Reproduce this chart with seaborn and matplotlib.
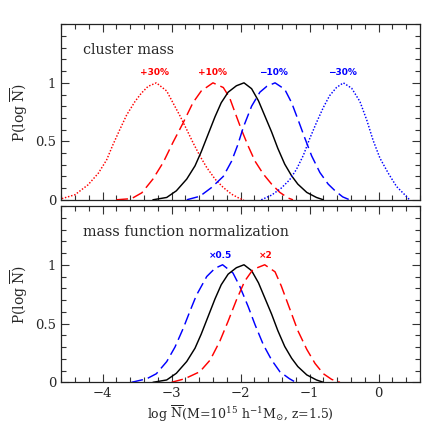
import matplotlib
matplotlib.use("Agg")
import matplotlib.pyplot as plt
from matplotlib.ticker import MultipleLocator
import seaborn as sns
import pandas as pd

# ---------------- data ----------------
# black reference curve (same in both panels)
x_black = [-3.27, -3.07, -2.93, -2.78, -2.66, -2.57, -2.47, -2.37, -2.28, -2.18, -2.06,
           -1.95, -1.84, -1.74, -1.65, -1.55, -1.46, -1.36, -1.26, -1.17, -1.04, -0.90, -0.80]
y_black = [0.0, 0.02, 0.077, 0.177, 0.29, 0.41, 0.56, 0.71, 0.83, 0.92, 0.975,
           1.0, 0.95, 0.846, 0.72, 0.58, 0.44, 0.305, 0.205, 0.134, 0.063, 0.02, 0.0]

# top panel: cluster mass
x_p30 = [-4.59, -4.40, -4.21, -4.06, -3.94, -3.85, -3.75, -3.65, -3.53, -3.44, -3.34,
         -3.22, -3.07, -2.98, -2.88, -2.78, -2.69, -2.59, -2.49, -2.37, -2.25, -2.13, -2.01, -1.95]
y_p30 = [0.01, 0.043, 0.128, 0.228, 0.342, 0.47, 0.60, 0.726, 0.84, 0.91, 0.97,
         1.0, 0.93, 0.83, 0.72, 0.60, 0.49, 0.376, 0.276, 0.177, 0.105, 0.048, 0.01, 0.0]

x_p10 = [-3.80, -3.58, -3.43, -3.27, -3.12, -2.98, -2.83, -2.69, -2.57, -2.40,
         -2.25, -2.16, -2.08, -1.99, -1.89, -1.79, -1.67, -1.55, -1.43, -1.31, -1.24]
y_p10 = [0.0, 0.01, 0.06, 0.177, 0.32, 0.49, 0.66, 0.83, 0.93, 1.0,
         0.96, 0.875, 0.746, 0.604, 0.46, 0.33, 0.22, 0.134, 0.063, 0.015, 0.0]

x_m10 = [-2.78, -2.59, -2.42, -2.25, -2.13, -2.04, -1.96, -1.84, -1.72, -1.62, -1.50,
         -1.36, -1.26, -1.17, -1.07, -0.97, -0.85, -0.73, -0.63, -0.52, -0.42]
y_m10 = [0.0, 0.03, 0.105, 0.20, 0.33, 0.47, 0.62, 0.80, 0.92, 0.97, 1.0,
         0.945, 0.83, 0.69, 0.53, 0.376, 0.233, 0.134, 0.077, 0.025, 0.0]

x_m30 = [-1.70, -1.55, -1.41, -1.29, -1.19, -1.09, -1.00, -0.90, -0.80, -0.71, -0.61,
         -0.51, -0.39, -0.27, -0.17, -0.08, 0.02, 0.14, 0.26, 0.38, 0.45]
y_m30 = [0.0, 0.04, 0.10, 0.17, 0.26, 0.38, 0.52, 0.66, 0.79, 0.89, 0.96,
         1.0, 0.954, 0.84, 0.68, 0.51, 0.356, 0.228, 0.114, 0.043, 0.0]

# bottom panel: mass function normalization
x_half = [-3.58, -3.36, -3.22, -3.07, -2.95, -2.83, -2.73, -2.64, -2.49, -2.37, -2.26,
          -2.11, -2.01, -1.89, -1.79, -1.67, -1.55, -1.43, -1.29, -1.20]
y_half = [0.0, 0.03, 0.073, 0.176, 0.30, 0.46, 0.61, 0.74, 0.90, 0.97, 1.0,
          0.93, 0.815, 0.645, 0.49, 0.32, 0.19, 0.09, 0.03, 0.0]

x_two = [-3.0, -2.81, -2.59, -2.44, -2.30, -2.18, -2.06, -1.94, -1.82, -1.65,
         -1.50, -1.41, -1.29, -1.17, -1.04, -0.92, -0.80, -0.68, -0.56]
y_two = [0.0, 0.03, 0.09, 0.19, 0.35, 0.52, 0.70, 0.86, 0.96, 1.0,
         0.94, 0.82, 0.63, 0.44, 0.28, 0.16, 0.073, 0.025, 0.0]

top_labels = ["+30%", "+10%", "\u221210%", "\u221230%"]
top_label_x = [-3.24, -2.40, -1.52, -0.53]
bot_labels = ["\u00d70.5", "\u00d72"]
bot_label_x = [-2.29, -1.64]

# ---------------- styling ----------------
sns.set_style("ticks")
plt.rcParams['font.family'] = ['DejaVu Serif']
plt.rcParams['mathtext.fontset'] = 'dejavuserif'

fig = plt.figure(figsize=(4.43, 4.43), dpi=100)
ax1 = fig.add_axes([0.138, 0.549, 0.810, 0.396])
ax2 = fig.add_axes([0.138, 0.137, 0.810, 0.398])

RED = "#ff0000"
BLUE = "#0000ff"
dash = (0, (8, 3.5))
dot = (0, (1, 1.2))
LW = 1.05


def draw(ax, x, y, color, ls):
    df = pd.DataFrame({"x": x, "y": y})
    sns.lineplot(data=df, x="x", y="y", ax=ax, color=color, linestyle=ls,
                 linewidth=LW, estimator=None, sort=False)


draw(ax1, x_p30, y_p30, RED, dot)
draw(ax1, x_p10, y_p10, RED, dash)
draw(ax1, x_black, y_black, "black", "-")
draw(ax1, x_m10, y_m10, BLUE, dash)
draw(ax1, x_m30, y_m30, BLUE, dot)

draw(ax2, x_half, y_half, BLUE, dash)
draw(ax2, x_black, y_black, "black", "-")
draw(ax2, x_two, y_two, RED, dash)

for lab, xx, c in zip(top_labels, top_label_x, [RED, RED, BLUE, BLUE]):
    ax1.text(xx, 1.085, lab, color=c, fontsize=6.5, fontweight='bold',
             ha='center', va='center', family=['DejaVu Sans'])
for lab, xx, c in zip(bot_labels, bot_label_x, [BLUE, RED]):
    ax2.text(xx, 1.08, lab, color=c, fontsize=6.5, fontweight='bold',
             ha='center', va='center', family=['DejaVu Sans'])

ax1.text(-4.29, 1.28, "cluster mass", fontsize=10.3, ha='left', va='center')
ax2.text(-4.29, 1.28, "mass function normalization", fontsize=10.4, ha='left', va='center')

for ax in (ax1, ax2):
    ax.set_xlim(-4.6, 0.6)
    ax.set_ylim(0, 1.5)
    ax.xaxis.set_major_locator(MultipleLocator(1))
    ax.xaxis.set_minor_locator(MultipleLocator(0.2))
    ax.yaxis.set_major_locator(MultipleLocator(0.5))
    ax.yaxis.set_minor_locator(MultipleLocator(0.1))
    ax.tick_params(which='both', direction='in', top=True, right=True,
                   labelsize=9.5, width=0.8, color='#333333')
    ax.tick_params(which='major', length=6)
    ax.tick_params(which='minor', length=3.5)
    for s in ax.spines.values():
        s.set_linewidth(0.9)
        s.set_color('#222222')
    ax.set_yticks([0, 0.5, 1])
    ax.set_yticklabels(["0", "0.5", "1"])
    ax.set_ylabel(r"P(log $\overline{\mathrm{N}}$)", fontsize=10, labelpad=4)
    ax.set_xlabel("")

ax1.set_xticklabels([])
ax2.set_xticks([-4, -3, -2, -1, 0])
ax2.set_xticklabels(["\u22124", "\u22123", "\u22122", "\u22121", "0"])
ax2.set_xlabel(r"log $\overline{\mathrm{N}}$(M=10$^{15}$ h$^{-1}$M$_{\odot}$, z=1.5)",
               fontsize=9, labelpad=3)

fig.savefig("out.png", dpi=100)
